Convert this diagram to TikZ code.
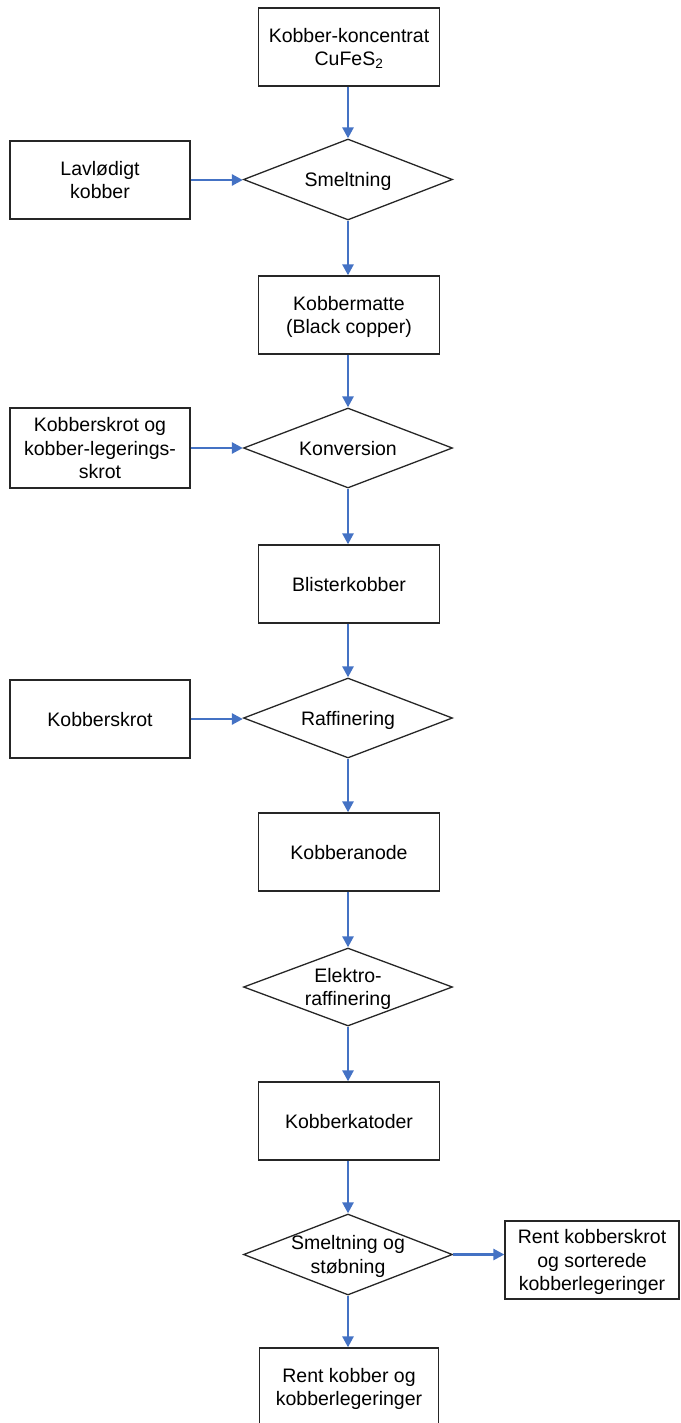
\documentclass[tikz,border=0pt]{standalone}
\usepackage{fontspec}
\setmainfont{Liberation Sans}
\usetikzlibrary{shapes.geometric,arrows.meta}
\definecolor{flowblue}{HTML}{4472C4}
\definecolor{edge}{HTML}{262626}
\tikzset{
  procbox/.style={draw=edge, line width=1.3pt, rectangle, minimum width=181pt, minimum height=78pt, inner sep=0pt, align=center, text depth=0pt, font=\fontsize{19.5}{23.5}\selectfont},
  sidebox/.style={procbox, minimum width=180pt},
  decision/.style={draw=edge, line width=1.3pt, diamond, minimum width=209pt, minimum height=81pt, inner sep=0pt},
  dlabel/.style={align=center, inner sep=0pt, text depth=0pt, font=\fontsize{19.5}{23.5}\selectfont},
  flow/.style={draw=flowblue, line width=2.6pt, -{Triangle[length=11pt,width=11pt]}}
}
\begin{document}
\begin{tikzpicture}[x=1pt,y=-1pt]
\useasboundingbox (0,0) rectangle (680,1423);
\clip (0,0) rectangle (680,1423);
\node[procbox] (top) at (349,47) {Kobber-koncentrat\\CuFeS\textsubscript{2}};
\node[decision] (d1) at (348,179.5) {};
\node[dlabel] (d1t) at (d1) {Smeltning};
\node[sidebox] (l1) at (100,180) {Lavlødigt\\kobber};
\node[procbox] (b2) at (349,315) {Kobbermatte\\(Black copper)};
\node[decision, minimum height=80pt] (d2) at (348,448) {};
\node[dlabel] (d2t) at (d2) {Konversion};
\node[sidebox, minimum height=80pt] (l2) at (100,448) {Kobberskrot og\\kobber-legerings-\\skrot};
\node[procbox] (b3) at (349,584) {Blisterkobber};
\node[decision, minimum height=80pt] (d3) at (348,718) {};
\node[dlabel] (d3t) at (d3) {Raffinering};
\node[sidebox] (l3) at (100,719) {Kobberskrot};
\node[procbox] (b4) at (349,852) {Kobberanode};
\node[decision, minimum height=78pt] (d4) at (348,987) {};
\node[dlabel] (d4t) at (d4) {Elektro-\\raffinering};
\node[procbox] (b5) at (349,1121) {Kobberkatoder};
\node[decision] (d5) at (348,1254.5) {};
\node[dlabel] (d5t) at (d5) {Smeltning og\\støbning};
\node[procbox, minimum width=174pt, minimum height=78pt] (r5) at (592,1260) {Rent kobberskrot\\og sorterede\\kobberlegeringer};
\node[procbox, minimum width=179pt] (b6) at (349,1387) {Rent kobber og\\kobberlegeringer};
\draw[flow] (top.south -| d1.north) -- (d1.north);
\draw[flow] (d1.south) -- (b2.north -| d1.south);
\draw[flow] (b2.south -| d2.north) -- (d2.north);
\draw[flow] (d2.south) -- (b3.north -| d2.south);
\draw[flow] (b3.south -| d3.north) -- (d3.north);
\draw[flow] (d3.south) -- (b4.north -| d3.south);
\draw[flow] (b4.south -| d4.north) -- (d4.north);
\draw[flow] (d4.south) -- (b5.north -| d4.south);
\draw[flow] (b5.south -| d5.north) -- (d5.north);
\draw[flow] (d5.south) -- (b6.north -| d5.south);
\draw[flow] (l1.east) -- (l1.east -| d1.west);
\draw[flow] (l2.east) -- (l2.east -| d2.west);
\draw[flow] (l3.east) -- (l3.east -| d3.west);
\draw[flow] (d5.east) -- (d5.east -| r5.west);
\end{tikzpicture}
\end{document}
